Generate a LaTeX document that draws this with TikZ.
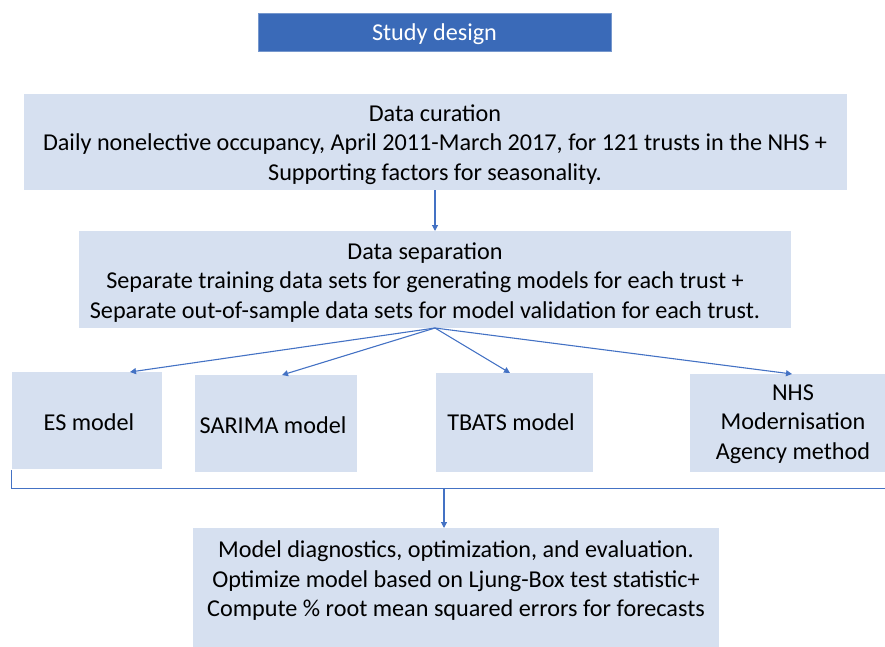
\documentclass[tikz,border=0pt]{standalone}
\usepackage{fontspec}
\setmainfont{Carlito}
\usetikzlibrary{arrows.meta}
\definecolor{hdrblue}{HTML}{3A6AB8}
\definecolor{boxblue}{HTML}{D6E0F0}
\definecolor{linkblue}{HTML}{4472C4}
\tikzset{
  panel/.style={fill=boxblue, draw=none, inner sep=0pt, anchor=north west},
  caption/.style={font=\fontsize{24.2}{29.5}\selectfont, align=center, text=black, inner sep=0pt},
  link/.style={draw=linkblue, line width=1.1pt, -{Triangle[width=6pt,length=6pt]}},
  rule/.style={draw=linkblue, line width=0.9pt}
}
\begin{document}
\begin{tikzpicture}[x=1pt,y=-1pt]
  \useasboundingbox (0,0) rectangle (885,647);

  % heading
  \node[panel, fill=hdrblue, draw=hdrblue!70!white, line width=0.6pt, minimum width=353pt, minimum height=38pt] (head) at (258,13) {};
  \node[caption, text=white] (headText) at (434.5,34) {Study design};

  % data curation
  \node[panel, minimum width=823pt, minimum height=96pt] (cur) at (24,94) {};
  \node[caption] (curText) at (435,144.5) {Data curation\\Daily nonelective occupancy, April 2011-March 2017, for 121 trusts in the NHS +\\Supporting factors for seasonality.};

  % data separation
  \node[panel, minimum width=712pt, minimum height=97pt] (sep) at (79,231) {};
  \node[caption] (sepText) at (425,282.5) {Data separation\\Separate training data sets for generating models for each trust +\\Separate out-of-sample data sets for model validation for each trust.};

  % forecasting methods
  \node[panel, minimum width=150pt, minimum height=97pt] (es) at (12,372) {};
  \node[caption] (esText) at (89,422) {ES model};
  \node[panel, minimum width=162pt, minimum height=97pt] (sar) at (195,375) {};
  \node[caption] (sarText) at (273,425) {SARIMA model};
  \node[panel, minimum width=157pt, minimum height=99pt] (tb) at (436,373) {};
  \node[caption] (tbText) at (511,422) {TBATS model};
  \node[panel, minimum width=195pt, minimum height=98pt] (nhs) at (690,374) {};
  \node[caption] (nhsText) at (793,424) {NHS\\Modernisation\\Agency method};

  % evaluation
  \node[panel, minimum width=526pt, minimum height=120pt] (ev) at (193,528) {};
  \node[caption] (evText) at (456,581) {Model diagnostics, optimization, and evaluation.\\Optimize model based on Ljung-Box test statistic+\\Compute \% root mean squared errors for forecasts};

  % connectors
  \coordinate (curOut) at (435,190);
  \coordinate (sepIn) at (435,231);
  \draw[link] (curOut) -- (sepIn);

  \coordinate (fan) at (435,328);
  \coordinate (esIn) at (130,372);
  \coordinate (sarIn) at (282,375);
  \coordinate (tbIn) at (510,373);
  \coordinate (nhsIn) at (792,374);
  \draw[link] (fan) -- (esIn);
  \draw[link] (fan) -- (sarIn);
  \draw[link] (fan) -- (tbIn);
  \draw[link] (fan) -- (nhsIn);

  % bracket gathering the four methods
  \coordinate (brTop) at (11,470);
  \coordinate (brCorner) at (11,488);
  \coordinate (brEnd) at (885,488);
  \draw[rule] (brTop) -- (brCorner) -- (brEnd);
  \coordinate (brDrop) at (444,488);
  \coordinate (evIn) at (444,528);
  \draw[link] (brDrop) -- (evIn);
\end{tikzpicture}
\end{document}
